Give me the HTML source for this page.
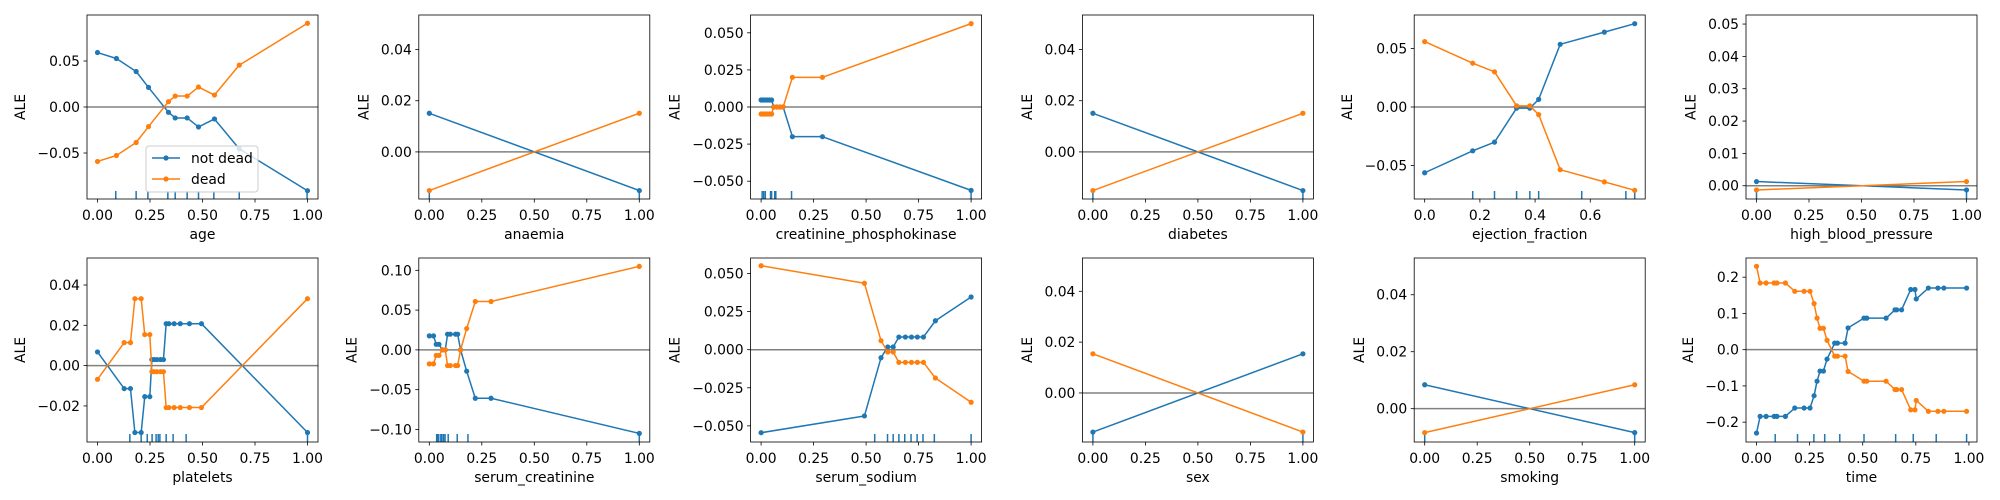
<!DOCTYPE html>
<html><head><meta charset="utf-8">
<style>
html,body{margin:0;padding:0;background:#fff;}
svg{display:block;font-family:"DejaVu Sans","Liberation Sans",sans-serif;}
</style></head>
<body>
<svg id="fig" width="2000" height="500" viewBox="0 0 2000 500" xmlns="http://www.w3.org/2000/svg"></svg>
<script>
// ---------- data ----------
const ageX = [0,0.09,0.184,0.243,0.338,0.37,0.427,0.481,0.557,0.675,1.0];
const ageNotDead = [0.0592,0.0527,0.0386,0.0213,-0.0058,-0.0119,-0.0119,-0.0217,-0.013,-0.0455,-0.091];
const ageDead = [-0.0592,-0.0527,-0.0386,-0.0213,0.0058,0.0119,0.0119,0.0217,0.013,0.0455,0.091];
const ageRug = [0.087,0.184,0.240,0.335,0.370,0.427,0.481,0.554,0.675,0.998];

const anaemiaX = [0,1];
const anaemiaNotDead = [0.0151,-0.0151];
const anaemiaDead = [-0.0151,0.0151];
const anaemiaRug = [0,1];

const cpkX = [0,0.01,0.02,0.03,0.04,0.05,0.06,0.075,0.09,0.105,0.149,0.292,1];
const cpkNotDead = [0.0047,0.0047,0.0047,0.0047,0.0047,0.0047,0,0,0,0,-0.02,-0.02,-0.0562];
const cpkDead = [-0.0047,-0.0047,-0.0047,-0.0047,-0.0047,-0.0047,0,0,0,0,0.02,0.02,0.0562];
const cpkRug = [0.005,0.012,0.02,0.045,0.05,0.065,0.07,0.145,1];

const diabetesX = [0,1];
const diabetesNotDead = [0.0151,-0.0151];
const diabetesDead = [-0.0151,0.0151];
const diabetesRug = [0,1];

const efX = [0,0.174,0.253,0.333,0.381,0.413,0.491,0.651,0.761];
const efNotDead = [-0.0561,-0.0374,-0.030,-0.001,-0.001,0.0065,0.0535,0.0639,0.0711];
const efDead = [0.0558,0.0374,0.030,0.001,0.001,-0.0065,-0.0535,-0.0639,-0.0711];
const efRug = [0.174,0.253,0.333,0.381,0.413,0.569,0.729,0.761];

const hbpX = [0,1];
const hbpNotDead = [0.0013,-0.0013];
const hbpDead = [-0.0013,0.0013];
const hbpRug = [0,1];

const platX = [0,0.127,0.157,0.178,0.208,0.225,0.249,0.259,0.27,0.283,0.30,0.314,0.327,0.34,0.365,0.394,0.438,0.495,1];
const platNotDead = [0.0068,-0.0114,-0.0114,-0.0332,-0.0332,-0.0154,-0.0154,0.003,0.003,0.003,0.003,0.003,0.0208,0.0208,0.0208,0.0208,0.0208,0.0208,-0.0332];
const platDead = [-0.0068,0.0114,0.0114,0.0332,0.0332,0.0154,0.0154,-0.003,-0.003,-0.003,-0.003,-0.003,-0.0208,-0.0208,-0.0208,-0.0208,-0.0208,-0.0208,0.0332];
const platRug = [0.154,0.208,0.237,0.260,0.279,0.289,0.297,0.327,0.360,0.422,1];

const scX = [0,0.02,0.033,0.046,0.062,0.076,0.087,0.1,0.125,0.135,0.149,0.178,0.219,0.294,1];
const scNotDead = [0.0176,0.0176,0.007,0.007,0,0,0.0197,0.0197,0.0197,0.0197,0,-0.0268,-0.0608,-0.0608,-0.105];
const scDead = [-0.0176,-0.0176,-0.007,-0.007,0,0,-0.0197,-0.0197,-0.0197,-0.0197,0,0.0268,0.0608,0.0608,0.105];
const scRug = [0.035,0.04,0.045,0.055,0.06,0.068,0.075,0.09,0.133,0.184,1];

const ssX = [0,0.492,0.571,0.603,0.629,0.656,0.687,0.716,0.744,0.773,0.830,1];
const ssNotDead = [-0.0545,-0.0435,-0.0053,0.0018,0.0018,0.0083,0.0083,0.0083,0.0083,0.0083,0.019,0.0346];
const ssDead = [0.0551,0.0436,0.0059,-0.0015,-0.0015,-0.0083,-0.0083,-0.0083,-0.0083,-0.0083,-0.0186,-0.0345];
const ssRug = [0.541,0.602,0.629,0.656,0.684,0.714,0.743,0.771,0.825,1.0];

const sexX = [0,1];
const sexNotDead = [-0.0154,0.0154];
const sexDead = [0.0154,-0.0154];
const sexRug = [0,1];

const smokX = [0,1];
const smokNotDead = [0.0084,-0.0084];
const smokDead = [-0.0084,0.0084];
const smokRug = [0,1];

const timeX = [0,0.017,0.045,0.083,0.096,0.136,0.180,0.224,0.252,0.271,0.285,0.299,0.315,0.332,0.368,0.381,0.417,0.431,0.506,0.519,0.610,0.652,0.660,0.683,0.726,0.746,0.752,0.809,0.854,0.882,0.989];
const timeNotDead = [-0.23,-0.184,-0.184,-0.184,-0.184,-0.184,-0.161,-0.161,-0.161,-0.127,-0.087,-0.059,-0.059,-0.026,0.018,0.018,0.018,0.060,0.087,0.087,0.087,0.110,0.110,0.110,0.166,0.166,0.140,0.170,0.170,0.170,0.170];
const timeDead = [0.23,0.184,0.184,0.184,0.184,0.184,0.161,0.161,0.161,0.127,0.087,0.059,0.059,0.026,-0.018,-0.018,-0.018,-0.060,-0.087,-0.087,-0.087,-0.110,-0.110,-0.110,-0.166,-0.166,-0.140,-0.170,-0.170,-0.170,-0.170];
const timeRug = [0.088,0.193,0.270,0.321,0.392,0.506,0.655,0.738,0.846,0.989];

const binTicksX = [0,0.25,0.5,0.75,1.0];
const smallTicksY = [0,0.02,0.04];

const panels = [
 {name:'age', x:ageX, nd:ageNotDead, d:ageDead, rug:ageRug, ylim:[-0.1,0.1], yt:[-0.05,0,0.05], yd:2, xlim:[-0.05,1.05], xt:binTicksX, xd:2, legend:true},
 {name:'anaemia', x:anaemiaX, nd:anaemiaNotDead, d:anaemiaDead, rug:anaemiaRug, ylim:[-0.0184,0.0535], yt:smallTicksY, yd:2, xlim:[-0.05,1.05], xt:binTicksX, xd:2},
 {name:'creatinine_phosphokinase', x:cpkX, nd:cpkNotDead, d:cpkDead, rug:cpkRug, ylim:[-0.062,0.062], yt:[-0.05,-0.025,0,0.025,0.05], yd:3, xlim:[-0.05,1.05], xt:binTicksX, xd:2},
 {name:'diabetes', x:diabetesX, nd:diabetesNotDead, d:diabetesDead, rug:diabetesRug, ylim:[-0.0184,0.0535], yt:smallTicksY, yd:2, xlim:[-0.05,1.05], xt:binTicksX, xd:2},
 {name:'ejection_fraction', x:efX, nd:efNotDead, d:efDead, rug:efRug, ylim:[-0.0785,0.0785], yt:[-0.05,0,0.05], yd:2, xlim:[-0.038,0.799], xt:[0,0.2,0.4,0.6], xd:1},
 {name:'high_blood_pressure', x:hbpX, nd:hbpNotDead, d:hbpDead, rug:hbpRug, ylim:[-0.0041,0.0528], yt:[0,0.01,0.02,0.03,0.04,0.05], yd:2, xlim:[-0.05,1.05], xt:binTicksX, xd:2},
 {name:'platelets', x:platX, nd:platNotDead, d:platDead, rug:platRug, ylim:[-0.0379,0.0534], yt:[-0.02,0,0.02,0.04], yd:2, xlim:[-0.05,1.05], xt:binTicksX, xd:2},
 {name:'serum_creatinine', x:scX, nd:scNotDead, d:scDead, rug:scRug, ylim:[-0.1158,0.1155], yt:[-0.1,-0.05,0,0.05,0.1], yd:2, xlim:[-0.05,1.05], xt:binTicksX, xd:2},
 {name:'serum_sodium', x:ssX, nd:ssNotDead, d:ssDead, rug:ssRug, ylim:[-0.0606,0.0602], yt:[-0.05,-0.025,0,0.025,0.05], yd:3, xlim:[-0.05,1.05], xt:binTicksX, xd:2},
 {name:'sex', x:sexX, nd:sexNotDead, d:sexDead, rug:sexRug, ylim:[-0.0193,0.0531], yt:smallTicksY, yd:2, xlim:[-0.05,1.05], xt:binTicksX, xd:2},
 {name:'smoking', x:smokX, nd:smokNotDead, d:smokDead, rug:smokRug, ylim:[-0.0117,0.0529], yt:smallTicksY, yd:2, xlim:[-0.05,1.05], xt:binTicksX, xd:2},
 {name:'time', x:timeX, nd:timeNotDead, d:timeDead, rug:timeRug, ylim:[-0.2547,0.2529], yt:[-0.2,-0.1,0,0.1,0.2], yd:1, xlim:[-0.0495,1.038], xt:binTicksX, xd:2}
];

// ---------- drawing ----------
const NS='http://www.w3.org/2000/svg';
const svg=document.getElementById('fig');
const BLUE='#1f77b4', ORANGE='#ff7f0e';
const L0=87, DXC=331.8, W=231, H=184, TOPS=[15,258], FS=13.9;
const cv=document.createElement('canvas').getContext('2d');
cv.font=FS+'px "DejaVu Sans"';
function mk(tag,attrs,parent){const e=document.createElementNS(NS,tag);for(const k in attrs)e.setAttribute(k,attrs[k]);(parent||svg).appendChild(e);return e;}
function fmt(v,d){const s=Math.abs(v).toFixed(d);return (v<-1e-12?'\u2212':'')+s;}

panels.forEach((p,i)=>{
  const col=i%6,row=Math.floor(i/6);
  const left=L0+col*DXC, top=TOPS[row], bottom=top+H, right=left+W;
  const sx=v=>left+(v-p.xlim[0])/(p.xlim[1]-p.xlim[0])*W;
  const sy=v=>bottom-(v-p.ylim[0])/(p.ylim[1]-p.ylim[0])*H;
  const g=mk('g',{});
  
  
  const cid='clip'+i;
  const cp=mk('clipPath',{id:cid},g);mk('rect',{x:left,y:top,width:W,height:H},cp);
  // zero line
  const z=mk('line',{x1:left,x2:right,y1:sy(0),y2:sy(0),stroke:'#808080','stroke-width':1.5},g);
  
  
  // rug
  const rg=mk('g',{'clip-path':'url(#'+cid+')'},g);
  
  
  p.rug.forEach(r=>{mk('line',{x1:sx(r),x2:sx(r),y1:bottom,y2:bottom-8,stroke:BLUE,'stroke-width':1.5},rg);});
  // series
  [[p.nd,BLUE,'not-dead'],[p.d,ORANGE,'dead']].forEach(([vals,c,nm])=>{
    const sg=mk('g',{},g);
    
    
    const pts=p.x.map((x,k)=>sx(x).toFixed(2)+','+sy(vals[k]).toFixed(2)).join(' ');
    mk('polyline',{points:pts,fill:'none',stroke:c,'stroke-width':1.5,'stroke-linejoin':'round'},sg);
    p.x.forEach((x,k)=>{const d=mk('circle',{cx:sx(x),cy:sy(vals[k]),r:2.6,fill:c},sg);
      
      });
  });
  // frame
  const fr=mk('rect',{x:left,y:top,width:W,height:H,fill:'none',stroke:'#000','stroke-width':0.8},g);
  
  
  // x ticks
  p.xt.forEach(t=>{const X=sx(t);
    mk('line',{x1:X,x2:X,y1:bottom,y2:bottom+3.5,stroke:'#000','stroke-width':0.8},g);
    const tx=mk('text',{x:X,y:bottom+21,'text-anchor':'middle','font-size':FS,fill:'#000'},g);
    tx.textContent=t.toFixed(p.xd);
    
    });
  // y ticks
  let maxw=0;
  p.yt.forEach(t=>{const Y=sy(t);
    mk('line',{x1:left-3.5,x2:left,y1:Y,y2:Y,stroke:'#000','stroke-width':0.8},g);
    const s=fmt(t,p.yd);maxw=Math.max(maxw,cv.measureText(s).width);
    const ty=mk('text',{x:left-7,y:Y+5,'text-anchor':'end','font-size':FS,fill:'#000'},g);
    ty.textContent=s;
    
    });
  // labels
  const xl=mk('text',{x:left+W/2,y:bottom+40,'text-anchor':'middle','font-size':FS,fill:'#000'},g);
  xl.textContent=p.name;
  
  
  const yx=left-7-maxw-16.5, yy=top+H/2;
  const yl=mk('text',{x:yx,y:yy,'text-anchor':'middle','dominant-baseline':'central','font-size':FS,fill:'#000',transform:'rotate(-90 '+yx+' '+yy+')'},g);
  yl.textContent='ALE';
  
  
  // legend
  if(p.legend){
    const lg=mk('g',{},g);
    
    
    mk('rect',{x:146,y:146,width:112,height:46,rx:3,fill:'#fff','fill-opacity':0.8,stroke:'#cccccc','stroke-width':1},lg);
    [['not dead',BLUE,158],['dead',ORANGE,179]].forEach(([t,c,y])=>{
      const e=mk('g',{},lg);
      
      
      mk('line',{x1:152,x2:180,y1:y,y2:y,stroke:c,'stroke-width':1.5},e);
      mk('circle',{cx:166,cy:y,r:2.6,fill:c},e);
      const tt=mk('text',{x:191,y:y+5,'font-size':FS,fill:'#000'},e);tt.textContent=t;
    });
  }
});
</script>
</body></html>
